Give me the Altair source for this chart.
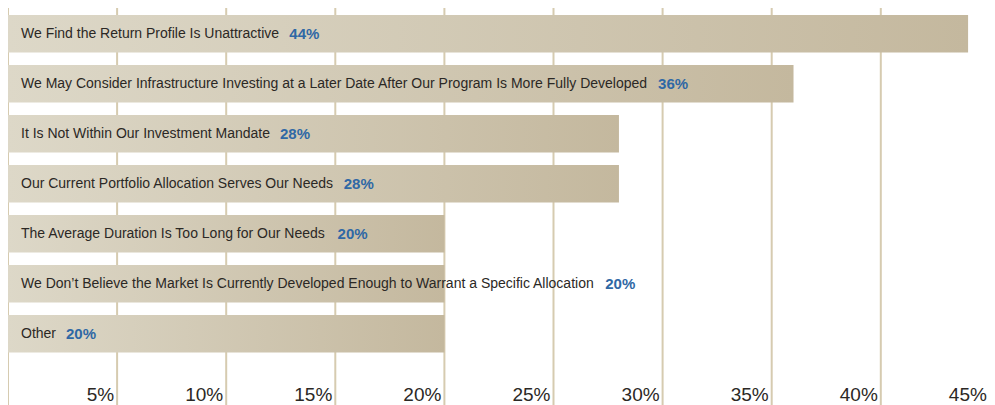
import altair as alt
import pandas as pd

# ---- data ----
reasons = [
    "We Find the Return Profile Is Unattractive",
    "We May Consider Infrastructure Investing at a Later Date After Our Program Is More Fully Developed",
    "It Is Not Within Our Investment Mandate",
    "Our Current Portfolio Allocation Serves Our Needs",
    "The Average Duration Is Too Long for Our Needs",
    "We Don\u2019t Believe the Market Is Currently Developed Enough to Warrant a Specific Allocation",
    "Other",
]
shares = [44, 36, 28, 28, 20, 20, 20]
tick_values = [5, 10, 15, 20, 25, 30, 35, 40, 45]
grid_values = [0, 5, 10, 15, 20, 25, 30, 35, 40, 45]

bars_df = pd.DataFrame({"label": reasons, "share": shares})
bars_df["pct"] = [f"{s}%" for s in shares]
ticks_df = pd.DataFrame({"t": tick_values, "txt": [f"{t}%" for t in tick_values]})
grid_df = pd.DataFrame({"t": grid_values})

FONT = "Liberation Sans"
LABEL_SIZE = 14
PCT_SIZE = 15
AXIS_SIZE = 19
LABEL_X = 13
GAP = 10

# Liberation Sans (Arial-metric) advance widths per 1000 em units
groups = {
    222: "ijl\u2019",
    278: " ftI",
    333: "r",
    500: "cksvxyzJ",
    556: "abdeghnopquL0123456789",
    611: "FTZ",
    667: "ABEKPSVXY",
    722: "CDHNRUw",
    778: "GOQ",
    833: "mM",
    944: "W",
}
parts = [
    f"{w}*length(replace(datum.label, regexp('[^{chars}]', 'g'), ''))"
    for w, chars in groups.items()
]
width_expr = f"{LABEL_X} + ({' + '.join(parts)}) * {LABEL_SIZE} / 1000 + {GAP}"

W, H = 979, 397
PX_PER_UNIT = 21.82
xscale = alt.Scale(domain=[0, W / PX_PER_UNIT], nice=False, zero=True)
yscale = alt.Scale(range=[7, 344.5], paddingInner=0.25, paddingOuter=0)

grid = alt.Chart(grid_df).mark_rule(color="#d6cbb0", strokeWidth=2).encode(
    x=alt.X("t:Q", scale=xscale, axis=None),
    y=alt.value(0),
    y2=alt.value(H),
)

bars = alt.Chart(bars_df).mark_bar(
    color=alt.Gradient(
        gradient="linear",
        stops=[
            alt.GradientStop(color="#ddd8c8", offset=0),
            alt.GradientStop(color="#c4b89e", offset=1),
        ],
        x1=0, x2=1, y1=0, y2=0,
    )
).encode(
    x=alt.X("share:Q", scale=xscale, axis=None),
    y=alt.Y("label:N", sort=None, scale=yscale, axis=None),
)

labels = alt.Chart(bars_df).mark_text(
    align="left", baseline="middle", font=FONT, fontSize=LABEL_SIZE,
    color="#2b2825", dx=LABEL_X,
).encode(
    x=alt.value(0),
    y=alt.Y("label:N", sort=None, scale=yscale, axis=None),
    text="label:N",
)

pcts = alt.Chart(bars_df).transform_calculate(
    px=width_expr
).mark_text(
    align="left", baseline="middle", font=FONT, fontSize=PCT_SIZE,
    fontWeight="bold", color="#2f68a5",
).encode(
    x=alt.X("px:Q", scale=None),
    y=alt.Y("label:N", sort=None, scale=yscale, axis=None),
    text="pct:N",
)

axis_text = alt.Chart(ticks_df).mark_text(
    align="right", baseline="alphabetic", font=FONT, fontSize=AXIS_SIZE,
    color="#2b2825", dx=-3,
).encode(
    x=alt.X("t:Q", scale=xscale, axis=None),
    y=alt.value(393),
    text="txt:N",
)

chart = alt.layer(grid, bars, labels, pcts, axis_text).properties(
    width=W, height=H, autosize=alt.AutoSizeParams(type="none"), padding=0,
    background="white",
).configure_view(stroke=None)

chart.save("out.html", embed_options={"renderer": "svg", "actions": False})
